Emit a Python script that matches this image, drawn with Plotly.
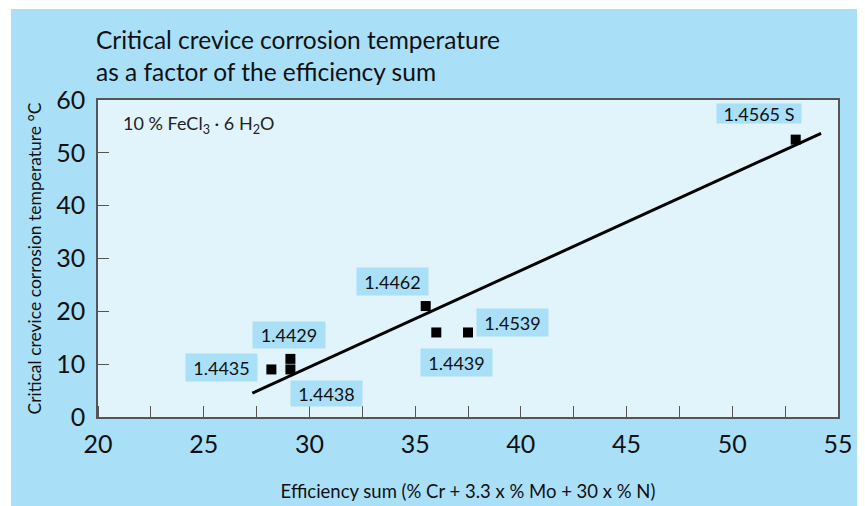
import plotly.graph_objects as go

# ---- data ----
grades = ["1.4565 S", "1.4462", "1.4439", "1.4539", "1.4435", "1.4429", "1.4438"]
eff_sum = [53.0, 35.5, 36.0, 37.5, 28.2, 29.1, 29.1]
cct = [52.5, 21.0, 16.0, 16.0, 9.0, 11.0, 9.0]
fit_x = [27.3, 54.2]
fit_y = [4.5, 53.7]
x_ticks = [20, 25, 30, 35, 40, 45, 50, 55]
y_ticks = [0, 10, 20, 30, 40, 50, 60]

# label placement (layout only): x, y (data coords), box width, box height (px)
label_pos = {
    "1.4565 S": (51.27, 57.4, 84, 19),
    "1.4462": (33.93, 25.6, 71, 27),
    "1.4429": (29.02, 15.5, 72, 26),
    "1.4435": (25.86, 9.3, 71, 27),
    "1.4438": (30.82, 4.4, 71, 25),
    "1.4439": (36.96, 10.4, 71, 27),
    "1.4539": (39.6, 17.8, 71, 27),
}

FONT = "Lato"
OUTER = "#aadff8"
INNER = "#e1f3fb"
AXIS = "#555555"

OFF = 8  # page margin of the browser
W, H = 865, 506
# plot area in window pixels
Lw, Rw, Tw, Bw = 98, 838, 100, 417
L, R, T, B = Lw - OFF, Rw - OFF, Tw - OFF, Bw - OFF
pw, ph = R - L, B - T


def px(xw):
    return (xw - OFF - L) / pw


def py(yw):
    return (B - (yw - OFF)) / ph


fig = go.Figure()
fig.add_trace(go.Scatter(x=fit_x, y=fit_y, mode="lines",
                         line=dict(color="black", width=3), hoverinfo="skip"))
fig.add_trace(go.Scatter(x=eff_sum, y=cct, mode="markers",
                         marker=dict(symbol="square", size=10, color="black"),
                         text=grades))

for g in grades:
    ax_, ay_, w, h = label_pos[g]
    fig.add_annotation(x=ax_, y=ay_, xref="x", yref="y", text=g, showarrow=False,
                       bgcolor=OUTER, width=w - 2, height=h - 2, borderpad=1,
                       font=dict(family=FONT, size=18, color="#111111"))

fig.add_annotation(x=px(121), y=py(125), xref="paper", yref="paper",
                   xanchor="left", yanchor="middle", showarrow=False,
                   text="10 % FeCl<sub>3</sub> · 6 H<sub>2</sub>O",
                   font=dict(family=FONT, size=18, color="#222222"))

fig.add_annotation(x=px(94), y=py(56), xref="paper", yref="paper",
                   xanchor="left", yanchor="middle", showarrow=False, align="left",
                   text="Critical crevice corrosion temperature<br>as a factor of the efficiency sum",
                   font=dict(family=FONT, size=24.5, color="#111111"))

# outer light-blue panel and inner plot background
fig.add_shape(type="rect", xref="paper", yref="paper", layer="below",
              x0=px(11), x1=px(W + OFF + 5), y0=py(H + OFF + 5), y1=py(9),
              fillcolor=OUTER, line=dict(width=0))
fig.add_shape(type="rect", xref="x domain", yref="y domain", layer="below",
              x0=0, x1=1, y0=0, y1=1, fillcolor=INNER, line=dict(width=0))

fig.update_layout(
    width=W, height=H,
    margin=dict(l=L, r=W - R, t=T, b=H - B),
    paper_bgcolor="white", plot_bgcolor=INNER,
    showlegend=False,
    font=dict(family=FONT, color="#111111"),
)
fig.update_xaxes(range=[20, 55], tickvals=x_ticks, ticktext=[str(v) for v in x_ticks],
                 showgrid=False, zeroline=False, showline=True, linecolor=AXIS, linewidth=2,
                 mirror=True, ticks="", tickfont=dict(size=25, family=FONT),
                 ticklabelstandoff=4,
                 title=dict(text="Efficiency sum (% Cr + 3.3 x % Mo + 30 x % N)",
                            font=dict(size=18.5, family=FONT), standoff=28))
fig.update_yaxes(range=[0, 60], tickvals=y_ticks, showgrid=False, zeroline=False,
                 showline=True, linecolor=AXIS, linewidth=1.5, mirror=True,
                 ticks="inside", ticklen=11, tickcolor=AXIS, tickwidth=1.2,
                 tickfont=dict(size=25, family=FONT), ticklabelstandoff=6,
                 title=dict(text="Critical crevice corrosion temperature °C",
                            font=dict(size=17.5, family=FONT), standoff=10))

fig.update_xaxes(minor=dict(dtick=2.5, tick0=20, ticks="inside", ticklen=11,
                            tickcolor=AXIS, tickwidth=1.2, showgrid=False))

fig.write_html("out.html")
